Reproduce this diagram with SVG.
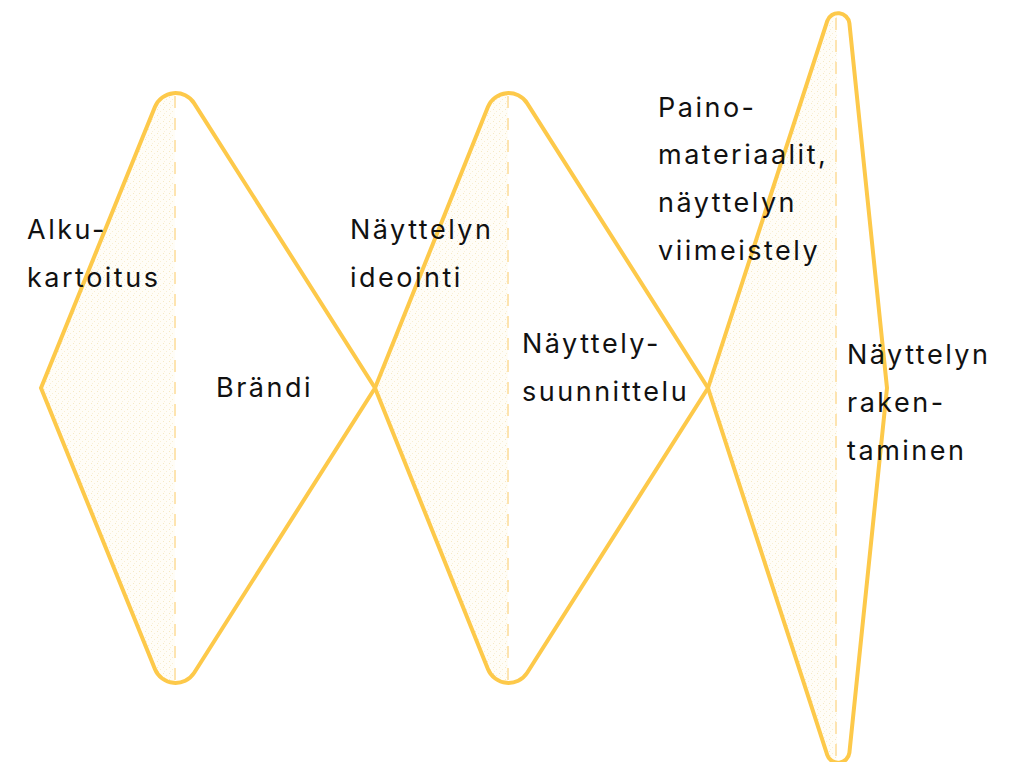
<svg xmlns="http://www.w3.org/2000/svg" width="1016" height="762" viewBox="0 0 1016 762">
<defs>
<pattern id="stipple" width="6" height="6" patternUnits="userSpaceOnUse">
<rect width="6" height="6" fill="#fffdf7"/>
<rect x="1" y="1" width="1" height="1" fill="#f6e9c4"/>
<rect x="4" y="3" width="1" height="1" fill="#f8eed2"/>
<rect x="2" y="5" width="1" height="1" fill="#f9f0d8"/>
</pattern>
</defs>
<style>
.fill{fill:url(#stipple);stroke:none}
.outline{fill:none;stroke:#fdc94a;stroke-width:4;stroke-linejoin:miter}
.axis{stroke:#fde4b0;stroke-width:2;stroke-dasharray:12 10;fill:none}
text{font-family:Inter,"Liberation Sans",sans-serif;font-size:27px;fill:#111;letter-spacing:2.5px}
</style>
<rect width="1016" height="762" fill="#fff"/>
<g id="diamond-1">
<path class="fill" d="M41,388 L154.9,107 A22.2,22.2 0 0 1 175,93 L175,683 A22.2,22.2 0 0 1 154.9,669 Z"/>
<line class="axis" x1="175" y1="96" x2="175" y2="683"/>
<path class="outline" d="M41,388 L154.9,107 A22.2,22.2 0 0 1 194.2,103.3 L375,388 L194.2,672.7 A22.2,22.2 0 0 1 154.9,669 Z"/>
</g>
<g id="diamond-2">
<path class="fill" d="M375,388 L487.9,107 A22.2,22.2 0 0 1 508,93 L508,683 A22.2,22.2 0 0 1 487.9,669 Z"/>
<line class="axis" x1="508" y1="96" x2="508" y2="683"/>
<path class="outline" d="M375,388 L487.9,107 A22.2,22.2 0 0 1 527.2,103.3 L708,388 L527.2,672.7 A22.2,22.2 0 0 1 487.9,669 Z"/>
</g>
<g id="diamond-3">
<path class="fill" d="M708,388 L827.3,20.9 A11.4,11.4 0 0 1 837,13 L837,763 A11.4,11.4 0 0 1 827.3,755.1 Z"/>
<line class="axis" x1="836" y1="18" x2="836" y2="760"/>
<path class="outline" d="M708,388 L827.3,20.9 A11.4,11.4 0 0 1 849.4,23.2 L887,388 L849.4,752.8 A11.4,11.4 0 0 1 827.3,755.1 Z"/>
</g>
<g id="labels">
<text x="27" y="239">Alku-</text>
<text x="27" y="287">kartoitus</text>
<text x="216" y="397">Brändi</text>
<text x="350" y="239">Näyttelyn</text>
<text x="350" y="287">ideointi</text>
<text x="522" y="353">Näyttely-</text>
<text x="522" y="401">suunnittelu</text>
<text x="658" y="117">Paino-</text>
<text x="658" y="164">materiaalit,</text>
<text x="658" y="212">näyttelyn</text>
<text x="658" y="260">viimeistely</text>
<text x="847" y="364">Näyttelyn</text>
<text x="847" y="412">raken-</text>
<text x="847" y="460">taminen</text>
</g>
</svg>
